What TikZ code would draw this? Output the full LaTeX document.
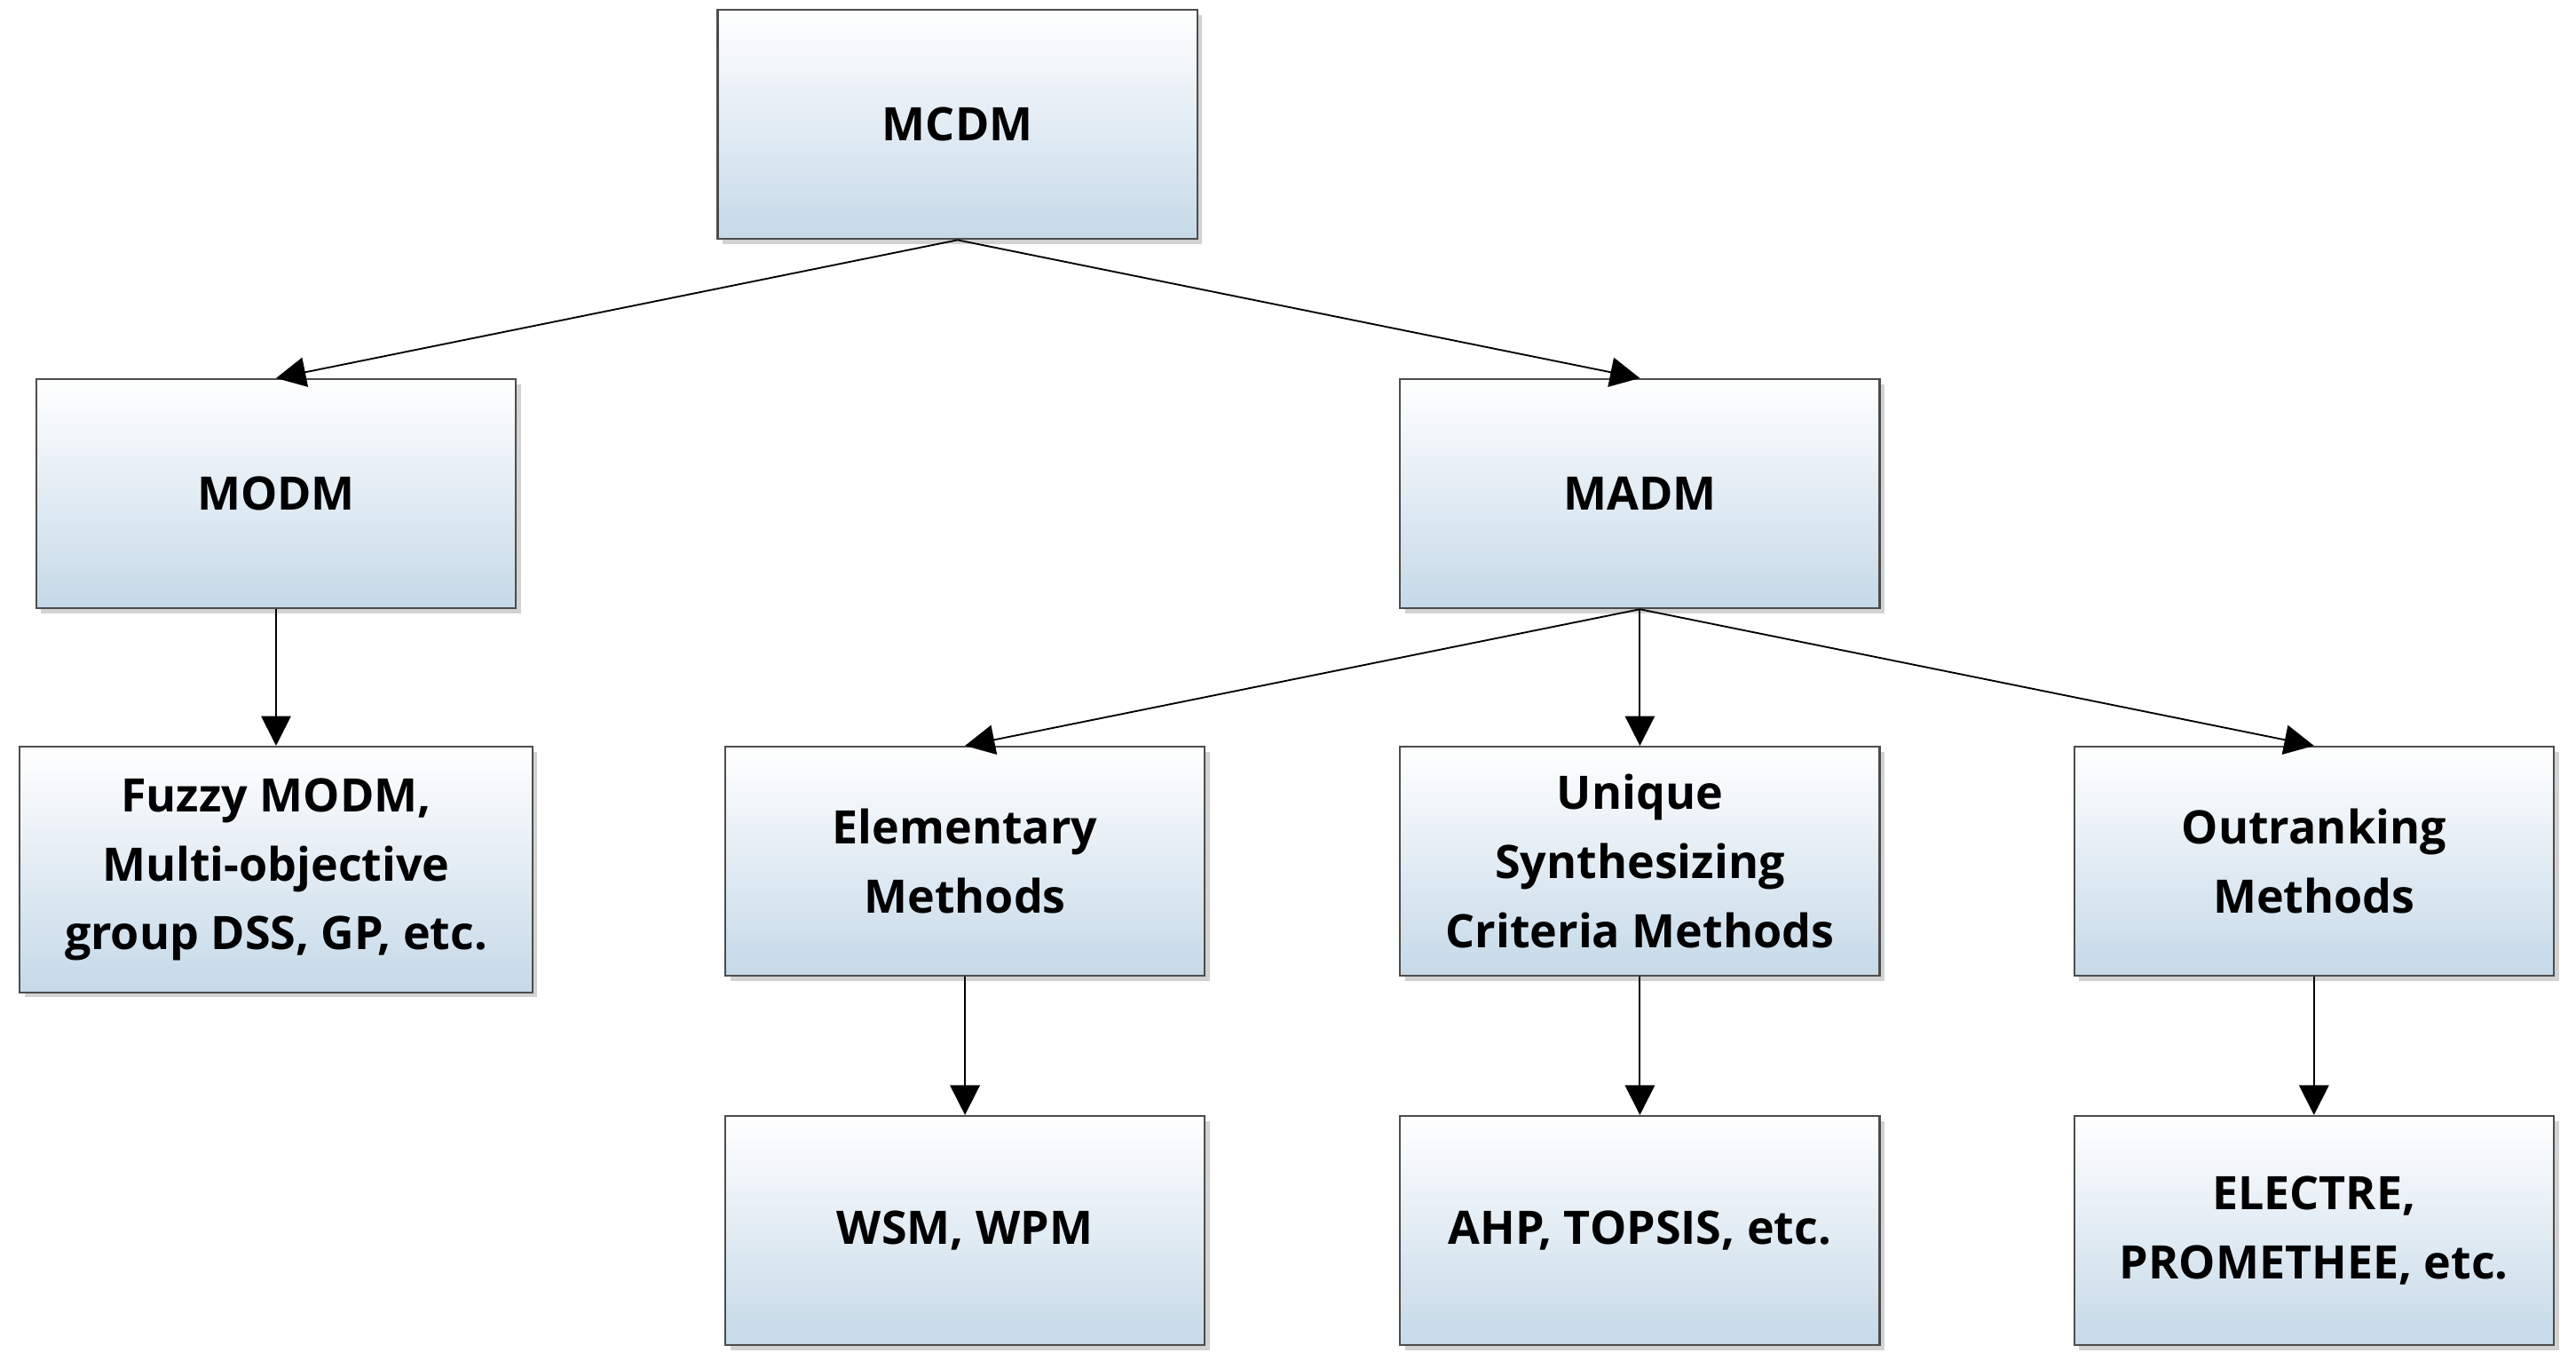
\documentclass[tikz,border=0pt]{standalone}
\usepackage{fontspec}
\setmainfont{Open Sans}
\usetikzlibrary{arrows.meta,shadows}
\definecolor{bxblue}{HTML}{C5D9E8}
\tikzset{
 box/.style={draw=black!70, line width=0.6pt, top color=white, bottom color=bxblue,
   minimum width=145.5pt, minimum height=69.5pt, align=center, inner sep=2pt,
   font=\fontsize{14}{21}\selectfont\bfseries,
   drop shadow={shadow xshift=1.5pt, shadow yshift=-1.5pt, fill=black!35}},
 arr/.style={-{Triangle[length=9pt,width=9pt]}, line width=0.5pt}
}
\begin{document}
\begin{tikzpicture}[x=0.5pt,y=-0.5pt]
\useasboundingbox (0,0) rectangle (1563,830);
\node[box] (mcdm) at (581,75.5) {MCDM};
\node[box] (modm) at (167.5,299.5) {MODM};
\node[box] (madm) at (995,299.5) {MADM};
\node[box, minimum width=155.5pt, minimum height=74.5pt] (fuzzy) at (167.5,527.5) {Fuzzy MODM,\\Multi-objective\\group DSS, GP, etc.};
\node[box] (elem) at (585.5,522.5) {Elementary\\Methods};
\node[box] (uniq) at (995,522.5) {Unique\\Synthesizing\\Criteria Methods};
\node[box] (outr) at (1404,522.5) {Outranking\\Methods};
\node[box] (wsm) at (585.5,746.5) {WSM, WPM};
\node[box] (ahp) at (995,746.5) {AHP, TOPSIS, etc.};
\node[box] (elec) at (1404,746.5) {ELECTRE,\\PROMETHEE, etc.};
\draw[arr] (mcdm.south) -- (modm.north);
\draw[arr] (mcdm.south) -- (madm.north);
\draw[arr] (modm.south) -- (fuzzy.north);
\draw[arr] (madm.south) -- (elem.north);
\draw[arr] (madm.south) -- (uniq.north);
\draw[arr] (madm.south) -- (outr.north);
\draw[arr] (elem.south) -- (wsm.north);
\draw[arr] (uniq.south) -- (ahp.north);
\draw[arr] (outr.south) -- (elec.north);
\end{tikzpicture}
\end{document}
